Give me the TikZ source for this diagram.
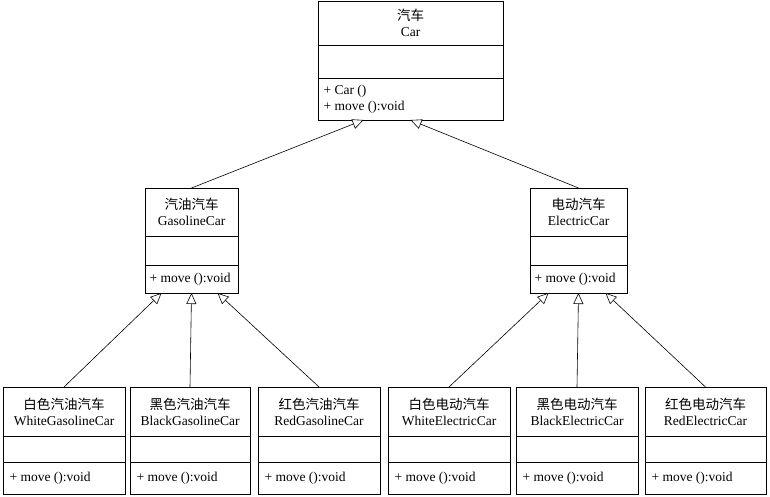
\documentclass[tikz,border=0pt]{standalone}
\usepackage{fontspec}
\setmainfont{Liberation Serif}
\newfontfamily\cjk{Noto Sans CJK SC}
\usetikzlibrary{arrows.meta}

\begin{document}
\begin{tikzpicture}[x=1pt,y=-1pt,font=\fontsize{13.5}{16}\selectfont]
    \tikzset{
        part/.style={draw,thick,rectangle,inner sep=0pt,outer sep=0pt,align=center},
        inherit/.style={semithick,-{Triangle[open,length=11pt,width=10pt,fill=white]}}
    }
    \useasboundingbox (0,0) rectangle (770,497);
    % class: name, center x, top, width, title, heights
    \newcommand{\classbox}[8]{
        \node[part,anchor=north,minimum width=#4,minimum height=#6] (#1) at (#2,#3) {#5};
        \node[part,anchor=north,minimum width=#4,minimum height=#7] (#1e) at (#1.south) {};
        \node[part,anchor=north,minimum width=#4,minimum height=#8] (#1o) at (#1e.south) {};
    }
    \classbox{car}{410.5}{1}{185}{{\cjk 汽车}\\Car}{44}{33}{42}
    \node[anchor=west,align=left] (carm) at ([xshift=2pt]caro.west) {+ Car ()\\+ move ():void};
    \classbox{gas}{191.5}{188}{93}{{\cjk 汽油汽车}\\GasolineCar}{48}{29}{28}
    \node[anchor=west] (gasm) at ([xshift=1pt]gaso.west) {+ move ():void};
    \classbox{ele}{578.5}{188}{97}{{\cjk 电动汽车}\\ElectricCar}{48}{29}{28}
    \node[anchor=west] (elem) at ([xshift=1pt]eleo.west) {+ move ():void};
    \foreach \id/\cx/\w/\cn/\en in {
        wgc/64/122/白色汽油汽车/WhiteGasolineCar,
        bgc/190/120/黑色汽油汽车/BlackGasolineCar,
        rgc/319/122/红色汽油汽车/RedGasolineCar,
        wec/449/122/白色电动汽车/WhiteElectricCar,
        bec/577/122/黑色电动汽车/BlackElectricCar,
        rec/705.5/121/红色电动汽车/RedElectricCar}{
        \classbox{\id}{\cx}{387}{\w}{{\cjk \cn}\\\en}{49}{26}{32}
        \node[anchor=west] (\id m) at ([xshift=3pt]\id o.west) {+ move ():void};
    }
    % attachment points on parents
    \coordinate (carL) at ([xshift=-47pt]caro.south);
    \coordinate (carR) at ([xshift=0pt]caro.south);
    \coordinate (gasL) at ([xshift=-30pt]gaso.south);
    \coordinate (gasR) at ([xshift=26pt]gaso.south);
    \coordinate (eleL) at ([xshift=-30pt]eleo.south);
    \coordinate (eleR) at ([xshift=27pt]eleo.south);
    \draw[inherit] (gas.north) -- (carL);
    \draw[inherit] (ele.north) -- (carR);
    \draw[inherit] (wgc.north) -- (gasL);
    \draw[inherit] (bgc.north) -- (gaso.south);
    \draw[inherit] (rgc.north) -- (gasR);
    \draw[inherit] (wec.north) -- (eleL);
    \draw[inherit] (bec.north) -- (eleo.south);
    \draw[inherit] (rec.north) -- (eleR);
\end{tikzpicture}
\end{document}
